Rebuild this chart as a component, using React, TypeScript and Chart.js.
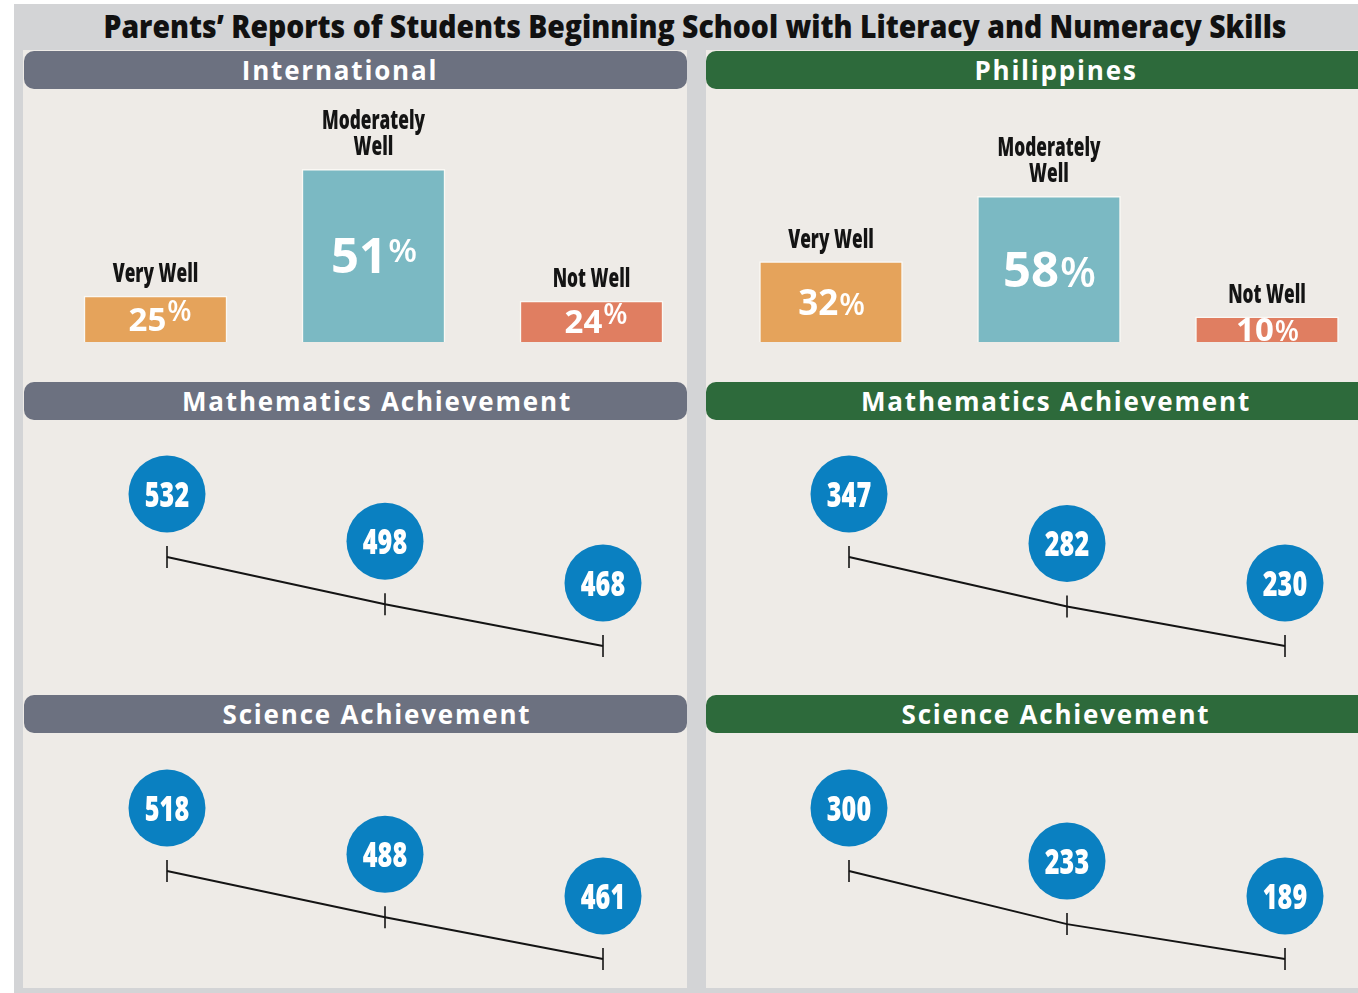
import React, { useEffect, useLayoutEffect, useRef } from "react";
import { Chart, registerables } from "chart.js";

Chart.register(...registerables);

// ---------------- data ----------------
const TITLE = "Parents’ Reports of Students Beginning School with Literacy and Numeracy Skills";
const REGION_NAMES = ["International", "Philippines"];
const SECTION_TITLES = ["Mathematics Achievement", "Science Achievement"];
const SKILL_CATEGORIES = ["Very Well", "Moderately Well", "Not Well"];
const SKILL_LABEL_LINES = [["Very Well"], ["Moderately", "Well"], ["Not Well"]];
const INTL_PERCENT = [25, 51, 24];
const PHIL_PERCENT = [32, 58, 10];
const INTL_MATH = [532, 498, 468];
const PHIL_MATH = [347, 282, 230];
const INTL_SCIENCE = [518, 488, 461];
const PHIL_SCIENCE = [300, 233, 189];

// ---------------- styles ----------------
const W = 1358;
const H = 993;
const FRAME = "#d3d4d6";
const PANEL = "#eeebe7";
const INTL_HEADER = "#6c7180";
const PHIL_HEADER = "#2d6a3b";
const CIRCLE = "#0a80c1";
const INK = "#141414";
const BAR_COLORS = ["#e5a35b", "#7bb9c3", "#e07e61"];
const NUMF = '"Open Sans", "Noto Sans", sans-serif';

type Box = { left: number; top: number; width: number; height: number };
type Pad = { left: number; right: number; top: number; bottom: number };

// draws horizontally condensed, centred text (emulates a condensed bold face)
function fillCondensed(ctx: CanvasRenderingContext2D, text: string, x: number, y: number, sx: number) {
  ctx.save();
  ctx.translate(x, y);
  ctx.scale(sx, 1);
  ctx.textAlign = "center";
  ctx.fillText(text, 0, 0);
  ctx.restore();
}

function barLabelPlugin(supPercent: boolean) {
  return {
    id: "barLabels",
    afterDatasetsDraw(chart: any) {
      const ctx = chart.ctx as CanvasRenderingContext2D;
      const values = chart.data.datasets[0].data as number[];
      chart.getDatasetMeta(0).data.forEach((el: any, i: number) => {
        const { x, y, base } = el.getProps(["x", "y", "base"], true);
        ctx.save();
        ctx.fillStyle = INK;
        ctx.textBaseline = "alphabetic";
        ctx.font = `800 27px ${NUMF}`;
        const lines = SKILL_LABEL_LINES[i];
        lines.forEach((ln, j) => fillCondensed(ctx, ln, x, y - 14 - (lines.length - 1 - j) * 26, 0.64));

        const h = base - y;
        const size = h > 120 ? 49 : h > 60 ? 35 : 33;
        const num = String(values[i]);
        ctx.font = `bold ${size}px ${NUMF}`;
        const m = ctx.measureText(num);
        const cap = m.actualBoundingBoxAscent;
        const baseline = (y + base) / 2 + cap / 2;
        const big = h > 120;
        const pSize = supPercent ? (big ? size * 0.68 : size * 0.85) : size * 0.85;
        const raise = supPercent ? (big ? size * 0.22 : size * 0.28) : 0;
        ctx.font = `600 ${pSize}px ${NUMF}`;
        const pW = ctx.measureText("%").width;
        const start = x - (m.width + pW) / 2 + (supPercent && !big ? 4 : 0);
        ctx.textAlign = "left";
        ctx.fillStyle = "#ffffff";
        ctx.font = `bold ${size}px ${NUMF}`;
        ctx.fillText(num, start, baseline);
        ctx.font = `600 ${pSize}px ${NUMF}`;
        ctx.fillText("%", start + m.width + 1, baseline - raise);
        ctx.restore();
      });
    },
  };
}

const bubblePlugin = {
  id: "scoreBubbles",
  afterDatasetsDraw(chart: any) {
    const ctx = chart.ctx as CanvasRenderingContext2D;
    const values = chart.data.datasets[0].data as number[];
    chart.getDatasetMeta(0).data.forEach((pt: any, i: number) => {
      const cx = pt.x;
      const cy = pt.y - 63;
      ctx.save();
      ctx.beginPath();
      ctx.arc(cx, cy, 38.5, 0, Math.PI * 2);
      ctx.fillStyle = CIRCLE;
      ctx.fill();
      ctx.fillStyle = "#ffffff";
      ctx.font = `800 35px ${NUMF}`;
      ctx.textBaseline = "alphabetic";
      const t = String(values[i]);
      const m = ctx.measureText(t);
      fillCondensed(ctx, t, cx, cy + m.actualBoundingBoxAscent / 2, 0.72);
      ctx.restore();
    });
  },
};

function BarChartBox(props: { box: Box; pad: Pad; values: number[]; yMin: number; yMax: number; supPercent: boolean }) {
  const ref = useRef<HTMLCanvasElement>(null);
  useEffect(() => {
    const chart = new Chart(ref.current!, {
      type: "bar",
      data: {
        labels: SKILL_CATEGORIES,
        datasets: [
          {
            data: props.values,
            backgroundColor: BAR_COLORS,
            borderColor: "#faf8f4",
            borderWidth: 1.5,
            barThickness: 143,
            base: props.yMin,
            clip: false,
          } as any,
        ],
      },
      options: {
        animation: false,
        responsive: false,
        events: [],
        layout: { padding: props.pad },
        plugins: { legend: { display: false }, tooltip: { enabled: false } },
        scales: {
          x: { display: false },
          y: { display: false, min: props.yMin, max: props.yMax },
        },
      },
      plugins: [barLabelPlugin(props.supPercent)],
    });
    return () => chart.destroy();
  }, []);
  const b = props.box;
  return (
    <canvas
      ref={ref}
      width={b.width}
      height={b.height}
      style={{ position: "absolute", left: b.left, top: b.top, width: b.width, height: b.height }}
    />
  );
}

function LineChartBox(props: { box: Box; pad: Pad; values: number[] }) {
  const ref = useRef<HTMLCanvasElement>(null);
  useEffect(() => {
    const chart = new Chart(ref.current!, {
      type: "line",
      data: {
        labels: SKILL_CATEGORIES,
        datasets: [
          {
            data: props.values,
            borderColor: INK,
            borderWidth: 2,
            tension: 0,
            fill: false,
            pointStyle: "line",
            pointRotation: 90,
            pointRadius: 11,
            pointBorderColor: INK,
            pointBorderWidth: 1.6,
            clip: false,
          } as any,
        ],
      },
      options: {
        animation: false,
        responsive: false,
        events: [],
        layout: { padding: props.pad },
        plugins: { legend: { display: false }, tooltip: { enabled: false } },
        scales: {
          x: { display: false },
          y: { display: false, min: Math.min(...props.values), max: Math.max(...props.values) },
        },
      },
      plugins: [bubblePlugin],
    });
    return () => chart.destroy();
  }, []);
  const b = props.box;
  return (
    <canvas
      ref={ref}
      width={b.width}
      height={b.height}
      style={{ position: "absolute", left: b.left, top: b.top, width: b.width, height: b.height }}
    />
  );
}

function Title() {
  const ref = useRef<HTMLSpanElement>(null);
  useLayoutEffect(() => {
    const el = ref.current;
    if (!el) return;
    el.style.transform = "none";
    const w = el.getBoundingClientRect().width;
    if (w > 0) el.style.transform = `scaleX(${1183 / w})`;
  }, []);
  return (
    <div
      style={{
        position: "absolute",
        left: 0,
        top: 6,
        width: 1391,
        height: 40,
        lineHeight: "40px",
        textAlign: "center",
      }}
    >
      <span
        ref={ref}
        style={{
          display: "inline-block",
          whiteSpace: "nowrap",
          transformOrigin: "center",
          fontFamily: NUMF,
          fontWeight: 800,
          fontSize: 32,
          color: "#111",
        }}
      >
        {TITLE}
      </span>
    </div>
  );
}

function Header(props: { left: number; top: number; width: number; color: string; text: string; center: number }) {
  return (
    <div
      style={{
        position: "absolute",
        left: props.left,
        top: props.top,
        width: props.width,
        height: 38,
        borderRadius: 10,
        background: props.color,
        overflow: "hidden",
      }}
    >
      <div
        style={{
          position: "absolute",
          left: props.center - props.left - 300,
          width: 600,
          top: 0,
          height: 38,
          lineHeight: "38px",
          textAlign: "center",
          color: "#ffffff",
          fontFamily: NUMF,
          fontWeight: 700,
          fontSize: 26,
          letterSpacing: "1.8px",
          whiteSpace: "nowrap",
        }}
      >
        {props.text}
      </div>
    </div>
  );
}

export default function App() {
  const headerTops = [382, 695];
  return (
    <div
      style={{ position: "absolute", left: 0, top: 0, width: W, height: H, overflow: "hidden", background: "#ffffff" }}
    >
      <div style={{ position: "absolute", left: 14, top: 4, width: W - 14, height: H - 4, background: FRAME }} />
      <div style={{ position: "absolute", left: 23, top: 50, width: 664, height: 938, background: PANEL }} />
      <div style={{ position: "absolute", left: 706, top: 50, width: W - 706, height: 938, background: PANEL }} />
      <Title />

      <Header left={24} top={51} width={663} color={INTL_HEADER} text={REGION_NAMES[0]} center={340} />
      <Header left={706} top={51} width={720} color={PHIL_HEADER} text={REGION_NAMES[1]} center={1056} />
      {SECTION_TITLES.map((t, i) => (
        <React.Fragment key={t}>
          <Header left={24} top={headerTops[i]} width={663} color={INTL_HEADER} text={t} center={377} />
          <Header left={706} top={headerTops[i]} width={720} color={PHIL_HEADER} text={t} center={1056} />
        </React.Fragment>
      ))}

      <BarChartBox
        box={{ left: 24, top: 89, width: 680, height: 293 }}
        pad={{ left: 22.5, right: 3.5, top: 7, bottom: 40 }}
        values={INTL_PERCENT}
        yMin={15.6}
        yMax={66}
        supPercent={true}
      />
      <BarChartBox
        box={{ left: 706, top: 89, width: 672, height: 293 }}
        pad={{ left: 16, right: 2, top: 7, bottom: 40 }}
        values={PHIL_PERCENT}
        yMin={0}
        yMax={98}
        supPercent={false}
      />

      <LineChartBox
        box={{ left: 24, top: 420, width: 663, height: 275 }}
        pad={{ left: 143, right: 84, top: 137, bottom: 49 }}
        values={INTL_MATH}
      />
      <LineChartBox
        box={{ left: 706, top: 420, width: 652, height: 275 }}
        pad={{ left: 143, right: 73, top: 137, bottom: 49 }}
        values={PHIL_MATH}
      />
      <LineChartBox
        box={{ left: 24, top: 733, width: 663, height: 255 }}
        pad={{ left: 143, right: 84, top: 138, bottom: 29 }}
        values={INTL_SCIENCE}
      />
      <LineChartBox
        box={{ left: 706, top: 733, width: 652, height: 255 }}
        pad={{ left: 143, right: 73, top: 138, bottom: 29 }}
        values={PHIL_SCIENCE}
      />
    </div>
  );
}
